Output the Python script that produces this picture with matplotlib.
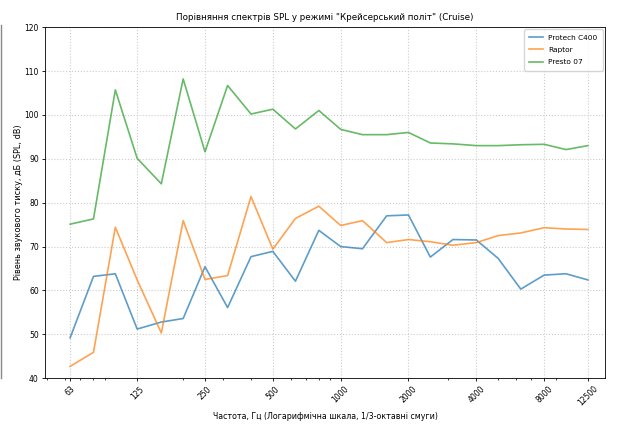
import numpy as np
import matplotlib
matplotlib.use('Agg')
import matplotlib.pyplot as plt
from matplotlib.lines import Line2D
from matplotlib.ticker import NullFormatter


# 1/3-octave band centres, Hz
freqs = [63, 80, 100, 125, 160, 200, 250, 315, 400, 500, 630, 800,
         1000, 1250, 1600, 2000, 2500, 3150, 4000, 5000, 6300, 8000,
         10000, 12500]

protech = [49.2, 63.2, 63.8, 51.2, 52.8, 53.6, 65.4, 56.1, 67.7, 68.9,
           62.1, 73.7, 70.0, 69.5, 77.0, 77.2, 67.6, 71.6, 71.5, 67.3,
           60.3, 63.5, 63.8, 62.4]
raptor = [42.7, 45.9, 74.4, 62.4, 50.3, 75.9, 62.5, 63.4, 81.4, 69.4,
          76.4, 79.2, 74.8, 75.9, 70.9, 71.6, 71.1, 70.3, 70.9, 72.5,
          73.1, 74.3, 74.0, 73.9]
presto = [75.1, 76.3, 105.7, 90.1, 84.3, 108.2, 91.6, 106.7, 100.2, 101.3,
          96.8, 101.0, 96.7, 95.5, 95.5, 96.0, 93.6, 93.4, 93.0, 93.0,
          93.2, 93.3, 92.1, 93.0]

tick_freqs = [63, 125, 250, 500, 1000, 2000, 4000, 8000, 12500]

fig = plt.figure(figsize=(6.18, 4.24), dpi=100)
ax = fig.add_axes([0.073, 0.108, 0.906, 0.828])

ax.plot(freqs, protech, color='tab:blue', lw=1.2, alpha=0.72, label='Protech C400')
ax.plot(freqs, raptor, color='tab:orange', lw=1.2, alpha=0.72, label='Raptor')
ax.plot(freqs, presto, color='tab:green', lw=1.2, alpha=0.72, label='Presto 07')

ax.set_xscale('log')
ax.set_xlim(48.8, 14900)
ax.set_xticks(tick_freqs)
ax.set_xticklabels([str(f) for f in tick_freqs], rotation=45, fontsize=5.5)
ax.xaxis.set_minor_formatter(NullFormatter())
ax.set_ylim(40, 120)
ax.tick_params(axis='y', labelsize=5.5)
ax.tick_params(length=2.5, width=0.6, pad=2)
ax.tick_params(which='minor', length=1.5, width=0.5)
ax.grid(True, which='major', linestyle=':', color='#cccccc', lw=0.8)
for sp in ax.spines.values():
    sp.set_linewidth(0.6)

ax.set_title('Порівняння спектрів SPL у режимі "Крейсерський політ" (Cruise)',
             fontsize=6.3, pad=5)
ax.set_xlabel('Частота, Гц (Логарифмічна шкала, 1/3-октавні смуги)', fontsize=5.7, labelpad=3)
ax.set_ylabel('Рівень звукового тиску, дБ (SPL, dB)', fontsize=5.9, labelpad=1)
ax.legend(loc='upper right', fontsize=5.3, borderpad=0.7, labelspacing=0.85,
          handlelength=1.8, borderaxespad=0.3)

fig.add_artist(Line2D([0.002, 0.002], [0.108, 0.94], transform=fig.transFigure,
                      color='#888888', lw=1))

fig.savefig('out.png', dpi=100)
